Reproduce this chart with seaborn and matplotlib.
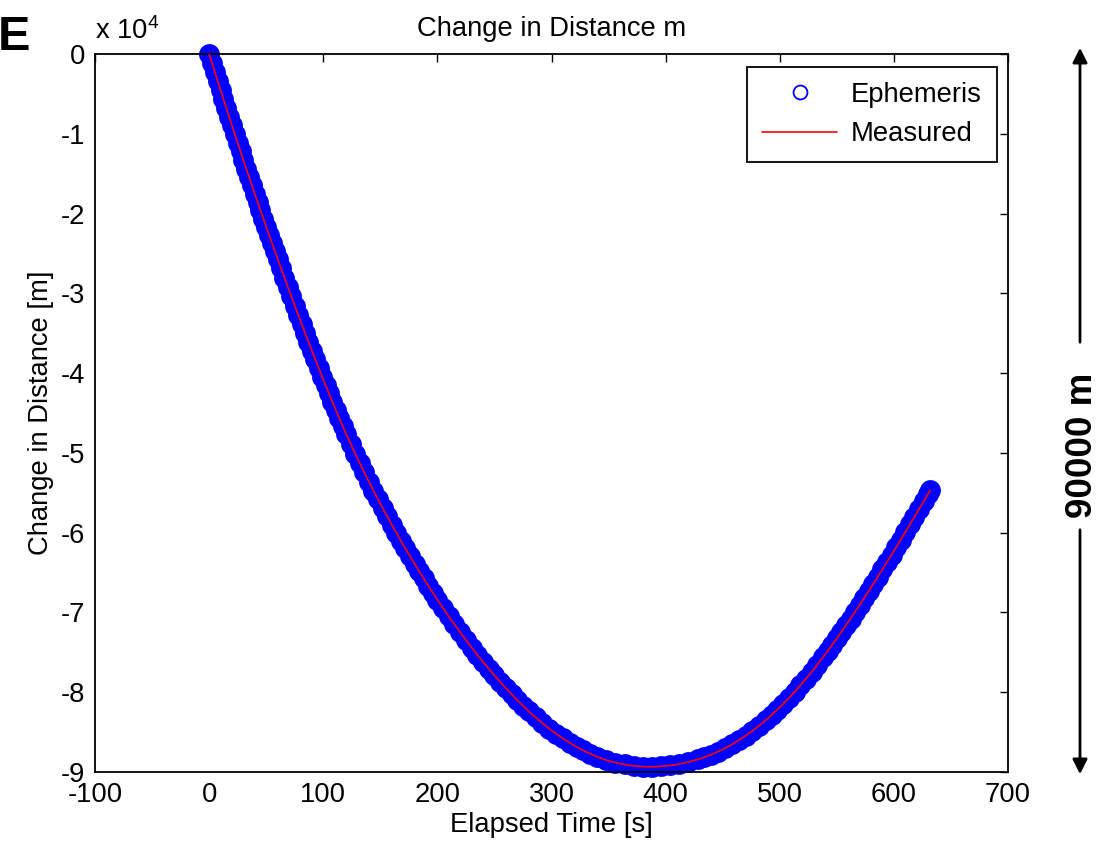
import matplotlib
matplotlib.use("Agg")
import matplotlib.pyplot as plt
from matplotlib.lines import Line2D
import seaborn as sns

# ---- data ----
ephem_time_s = [0, 2.5, 5, 7.5, 10, 12.5, 15, 17.5, 20, 22.5, 25, 27.5, 30, 32.5, 35, 37.5,
                40, 42.5, 45, 47.5, 50, 52.5, 55, 57.5, 60, 63, 66, 69, 72, 75, 78, 81,
                84, 87, 90, 93, 96, 99, 102, 105, 108, 111, 114, 117, 120, 124, 128, 132,
                136, 140, 144, 148, 152, 156, 160, 164, 168, 172, 176, 180, 184, 188, 192,
                196, 200, 205, 210, 215, 220, 225, 230, 235, 240, 245, 250, 255, 260, 265,
                270, 275, 280, 286, 292, 298, 304, 310, 316, 322, 328, 334, 340, 348, 356,
                364, 372, 380, 388, 396, 404, 412, 420, 428, 434, 440, 446, 452, 458, 464,
                470, 476, 482, 488, 493, 498, 503, 508, 513, 518, 523, 528, 533, 538, 542,
                546, 550, 554, 558, 562, 566, 570, 574, 578, 582, 586, 590, 594, 598, 602,
                606, 610, 614, 618, 622, 626, 630, 632]
ephem_dist_m = [0, -1140, -2280, -3410, -4530, -5650, -6760, -7860, -8960, -10050, -11140,
                -12220, -13290, -14360, -15420, -16470, -17520, -18560, -19600, -20630,
                -21650, -22670, -23680, -24680, -25680, -26870, -28050, -29220, -30380,
                -31540, -32680, -33820, -34940, -36060, -37170, -38270, -39360, -40440,
                -41500, -42550, -43600, -44630, -45620, -46610, -47600, -48840, -50080,
                -51280, -52440, -53600, -54720, -55840, -56920, -57960, -59000, -60000,
                -61000, -61980, -62940, -63900, -64820, -65740, -66640, -67520, -68400,
                -69450, -70500, -71500, -72500, -73450, -74400, -75300, -76200, -77050,
                -77900, -78700, -79500, -80250, -81000, -81700, -82400, -83150, -83880,
                -84570, -85200, -85800, -86340, -86850, -87300, -87710, -88100, -88500,
                -88810, -89050, -89220, -89320, -89350, -89300, -89180, -88990, -88750,
                -88430, -88140, -87820, -87440, -87020, -86550, -86030, -85470, -84850,
                -84190, -83470, -82840, -82170, -81470, -80730, -79960, -79150, -78310,
                -77430, -76530, -75600, -74830, -74050, -73250, -72440, -71610, -70770,
                -69920, -69060, -68190, -67300, -66410, -65500, -64590, -63670, -62740,
                -61810, -60870, -59920, -58970, -58010, -57060, -56090, -55130, -54650]

meas_time_s = [0, 10, 20, 30, 40, 50, 60, 70, 80, 90, 100, 110, 120, 130, 140, 150, 160,
               170, 180, 190, 200, 210, 220, 230, 240, 250, 260, 270, 280, 290, 300, 310,
               320, 330, 340, 350, 360, 370, 380, 386, 390, 400, 410, 420, 430, 440, 450,
               460, 470, 480, 490, 500, 510, 520, 530, 540, 550, 560, 570, 580, 590, 600,
               610, 620, 630, 632]
meas_dist_m = [0, -4530, -8960, -13290, -17520, -21650, -25680, -29610, -33440, -37170,
               -40800, -44300, -47600, -50700, -53600, -56400, -59000, -61500, -63900,
               -66200, -68400, -70500, -72500, -74400, -76200, -77900, -79500, -81000,
               -82400, -83650, -84800, -85800, -86700, -87450, -88100, -88600, -88950,
               -89200, -89320, -89350, -89340, -89250, -89050, -88750, -88340, -87820,
               -87170, -86390, -85470, -84420, -83230, -81900, -80430, -78820, -77080,
               -75220, -73250, -71200, -69060, -66860, -64590, -62280, -59920, -57540,
               -55130, -54650]

x_ticks = [-100, 0, 100, 200, 300, 400, 500, 600, 700]
y_ticks = [-90000, -80000, -70000, -60000, -50000, -40000, -30000, -20000, -10000, 0]
y_tick_labels = ["-9", "-8", "-7", "-6", "-5", "-4", "-3", "-2", "-1", "0"]

# ---- style ----
sns.set_style("white")
plt.rcParams["font.family"] = ["Liberation Sans", "DejaVu Sans"]
plt.rcParams["mathtext.fontset"] = "custom"
plt.rcParams["mathtext.rm"] = "Liberation Sans"
plt.rcParams["mathtext.it"] = "Liberation Sans"
plt.rcParams["text.color"] = "black"
plt.rcParams["axes.labelcolor"] = "black"
plt.rcParams["xtick.color"] = "black"
plt.rcParams["ytick.color"] = "black"

W, H = 1105, 848
fig = plt.figure(figsize=(W / 100, H / 100), dpi=100)
ax = fig.add_axes([95 / W, 1 - 772 / H, (1008 - 95) / W, (772 - 54) / H])

fs = 19.7

sns.scatterplot(x=ephem_time_s, y=ephem_dist_m, ax=ax, color="#0000ff", s=225,
                linewidth=0, marker="o", legend=False, zorder=2, clip_on=False)
sns.lineplot(x=meas_time_s, y=meas_dist_m, ax=ax, color="#ff0000", linewidth=1.2,
             sort=False, estimator=None, legend=False, zorder=3)

ax.set_xlim(-100, 700)
ax.set_ylim(-90000, 0)
ax.set_xticks(x_ticks)
ax.set_xticklabels([str(v) for v in x_ticks])
ax.set_yticks(y_ticks)
ax.set_yticklabels(y_tick_labels)
ax.tick_params(direction="in", length=6, width=1, top=True, right=True,
               labelsize=fs, pad=7, colors="black")
for sp in ax.spines.values():
    sp.set_color("black")
    sp.set_linewidth(1.3)

ax.set_xlabel("Elapsed Time [s]", fontsize=fs, labelpad=3)
ax.set_ylabel("Change in Distance [m]", fontsize=fs, labelpad=5)
ax.set_title("Change in Distance m", fontsize=fs, pad=13)
ax.text(0, 1.012, r"x 10$^{4}$", transform=ax.transAxes, ha="left", va="bottom",
        fontsize=fs)

handles = [Line2D([], [], marker="o", markersize=10, markerfacecolor="none",
                  markeredgecolor="#0000ff", markeredgewidth=1.3, linestyle="none"),
           Line2D([], [], color="#ff0000", linewidth=1.2)]
leg = ax.legend(handles, ["Ephemeris", "Measured"], loc="upper right",
                bbox_to_anchor=((997 - 95) / 913, 1 - (67 - 54) / 718),
                borderaxespad=0, fontsize=fs, frameon=True, fancybox=False,
                framealpha=1, edgecolor="black", handlelength=2.74,
                handletextpad=0.5, labelspacing=0.48, borderpad=0.55)
leg.get_frame().set_linewidth(1.3)

# panel letter
fig.text(-2 / W, 1 - 50 / H, "E", fontsize=35, fontweight="bold", ha="left",
         va="baseline", color="black")

# scale arrow on the right
xa = 1080 / W
ax.annotate("", xy=(xa, 1 - 45 / H), xytext=(xa, 1 - 345 / H),
            xycoords="figure fraction", textcoords="figure fraction",
            arrowprops=dict(arrowstyle="-|>", color="black", lw=2, mutation_scale=22))
ax.annotate("", xy=(xa, 1 - 777 / H), xytext=(xa, 1 - 527 / H),
            xycoords="figure fraction", textcoords="figure fraction",
            arrowprops=dict(arrowstyle="-|>", color="black", lw=2, mutation_scale=22))
fig.text(1083 / W, 1 - 445 / H, "90000 m", rotation=90, fontsize=26.5,
         fontweight="bold", ha="center", va="center", color="black")

fig.savefig("out.png", dpi=100)
